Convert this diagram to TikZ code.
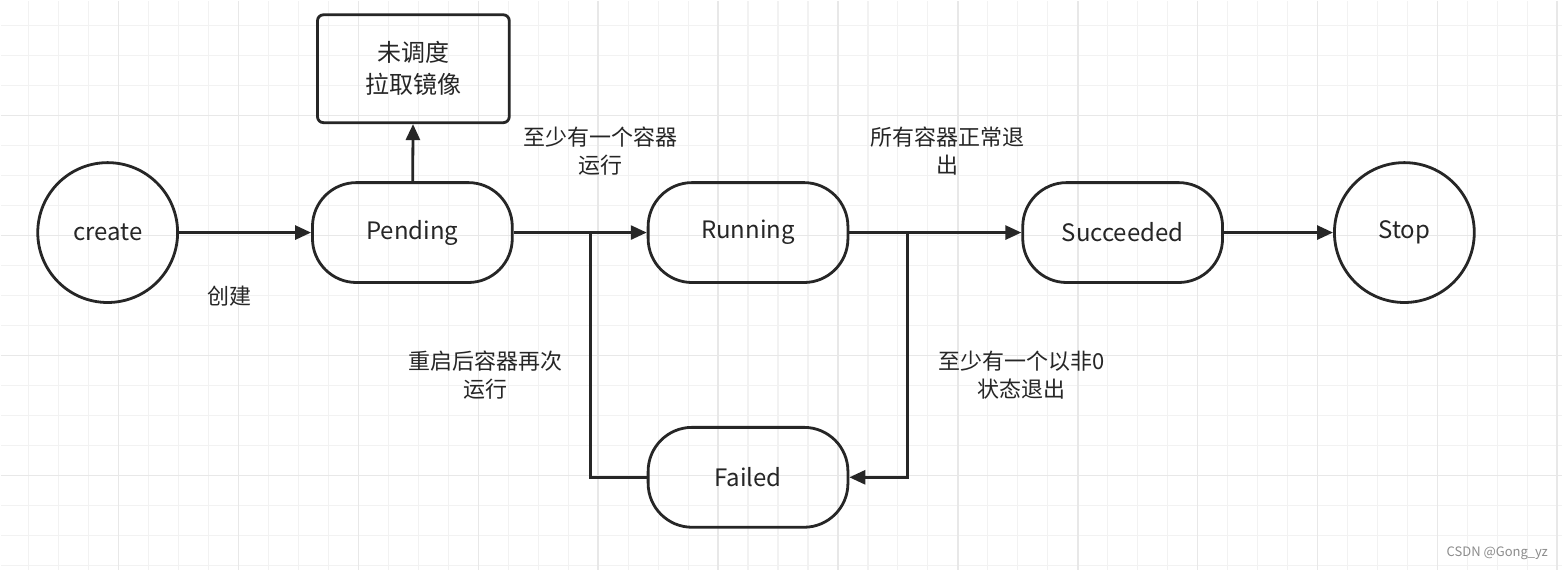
\documentclass[tikz,border=0pt]{standalone}
\usepackage{fontspec}
\setmainfont{Noto Sans CJK SC}
\usetikzlibrary{arrows.meta}
\begin{document}
\begin{tikzpicture}[x=0.5pt,y=-0.5pt,
  st/.style={draw=black!85,line width=1.4pt,rounded corners=22pt,minimum width=100pt,minimum height=50pt,font=\fontsize{12}{14}\selectfont,text=black!85},
  circ/.style={draw=black!85,line width=1.4pt,circle,minimum size=70pt,font=\fontsize{12}{14}\selectfont,text=black!85},
  ln/.style={draw=black!85,line width=1.4pt},
  ar/.style={ln,-{Triangle[length=8pt,width=7pt]}},
  lb/.style={align=center,font=\fontsize{11}{14}\selectfont,text=black!85}]
\fill[white] (0,0) rectangle (1563,570);
\foreach \x in {28,58,...,1558} \draw[black!5,line width=0.6pt] (\x,0) -- (\x,570);
\foreach \y in {25,55,...,565} \draw[black!5,line width=0.6pt] (0,\y) -- (1563,\y);
\foreach \x in {118,238,...,1558} \draw[black!9,line width=0.8pt] (\x,0) -- (\x,570);
\foreach \y in {115,235,...,565} \draw[black!9,line width=0.8pt] (0,\y) -- (1563,\y);
\useasboundingbox (0,0) rectangle (1563,570);
\node[circ] (c) at (107,232) {create};
\node[st] (p) at (412,232) {Pending};
\node[st,rounded corners=3pt,minimum width=96pt,minimum height=54pt,align=center,font=\fontsize{12}{16}\selectfont] (u) at (413,68) {未调度\\拉取镜像};
\node[st] (r) at (748,232) {Running};
\node[st] (s) at (1123,232) {Succeeded};
\node[circ] (t) at (1405,232) {Stop};
\node[st] (f) at (748,477) {Failed};
\coordinate (b1) at (590,232);
\coordinate (b2) at (908,232);
\draw[ar] (c) -- (p);
\draw[ar] (p) -- (u);
\draw[ar] (p) -- (r);
\draw[ln] (f.west) -| (b1);
\draw[ar] (r) -- (s);
\draw[ar] (b2) |- (f.east);
\draw[ar] (s) -- (t);
\node[lb] at (229,296) {创建};
\node[lb] at (600,150) {至少有一个容器\\运行};
\node[lb] at (948,150) {所有容器正常退\\出};
\node[lb] at (485,375) {重启后容器再次\\运行};
\node[lb] at (1022,375) {至少有一个以非0\\状态退出};
\node[font=\fontsize{6.5}{8}\selectfont,text=black!45] at (1498,553) {CSDN @Gong\_yz};
\end{tikzpicture}
\end{document}
